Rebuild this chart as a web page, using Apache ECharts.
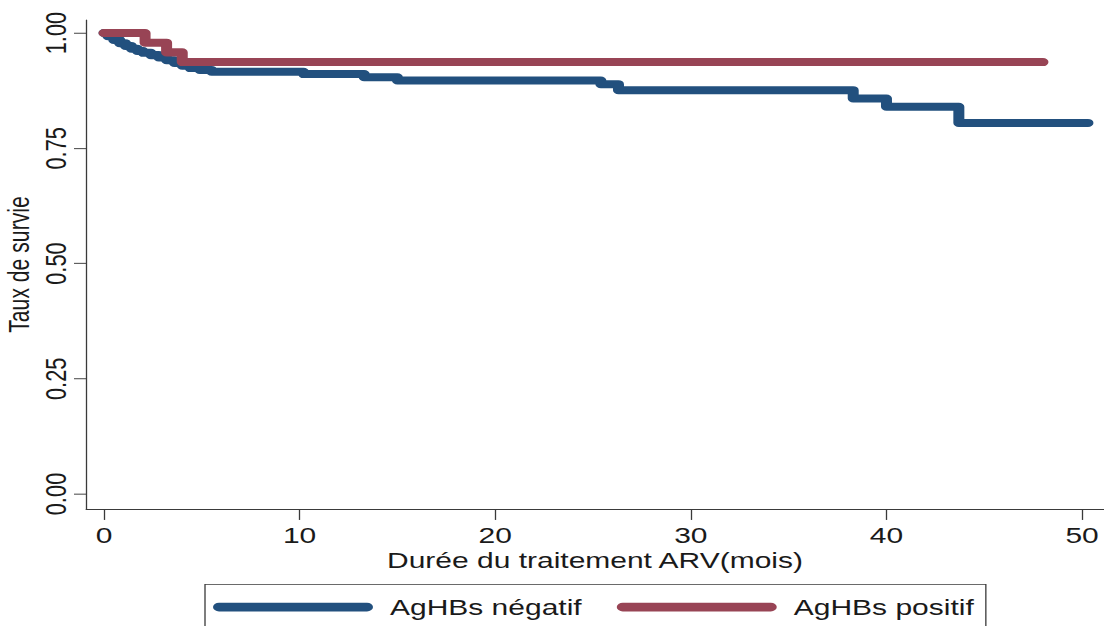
<!DOCTYPE html>
<html>
<head>
<meta charset="utf-8">
<script src="https://cdn.jsdelivr.net/npm/echarts@6/dist/echarts.min.js"></script>
<style>
html,body{margin:0;padding:0;background:#fff;overflow:hidden;width:1104px;height:626px;}
#c{width:1104px;height:857px;transform:scaleY(0.73046);transform-origin:0 0;}
</style>
</head>
<body>
<div id="c"></div>
<script>
// Kaplan-Meier survival, AgHBs négatif
const negTimes = [0, 0.2, 0.5, 0.8, 1.1, 1.4, 1.7, 2.0, 2.4, 2.8, 3.2, 3.6, 4.0, 4.4, 4.9, 5.5, 10.2, 13.3, 15.0, 25.4, 26.3, 38.3, 40.0, 43.7, 50.3];
const negSurv  = [1.0, 0.993, 0.985, 0.978, 0.972, 0.966, 0.961, 0.957, 0.952, 0.947, 0.941, 0.935, 0.929, 0.924, 0.920, 0.916, 0.911, 0.904, 0.897, 0.889, 0.876, 0.858, 0.840, 0.805, 0.805];
// AgHBs positif
const posTimes = [0, 2.1, 3.2, 4.0, 48.0];
const posSurv  = [1.0, 0.979, 0.958, 0.937, 0.937];

const seriesNames = ['AgHBs négatif', 'AgHBs positif'];
const xTickValues = [0, 10, 20, 30, 40, 50];
const yTickValues = [0, 0.25, 0.5, 0.75, 1];
const yTickLabels = ['0.00', '0.25', '0.50', '0.75', '1.00'];
const xTitle = 'Durée du traitement ARV(mois)';
const yTitle = 'Taux de survie';

const FONT = "'Liberation Sans', Arial, Helvetica, sans-serif";
const AXIS = {color: '#3a3a3a', width: 1.3};

function pairs(ts, ss) { return ts.map((t, i) => [t, ss[i]]); }

const chart = echarts.init(document.getElementById('c'), null, {renderer: 'svg'});
chart.setOption({
  animation: false,
  backgroundColor: '#ffffff',
  color: ['#22507e', '#984455'],
  grid: {left: 86, right: 0, top: 27.4, bottom: 160.2, containLabel: false, outerBoundsMode: 'none'},
  xAxis: {
    type: 'value', min: -0.92, max: 51.12,
    axisLine: {show: true, onZero: false, lineStyle: AXIS},
    axisTick: {show: true, length: 15, customValues: xTickValues, lineStyle: AXIS},
    axisLabel: {customValues: xTickValues, margin: 21, fontSize: 30, color: '#1a1a1a', fontFamily: FONT},
    splitLine: {show: false},
    name: xTitle, nameLocation: 'middle', nameGap: 49,
    nameTextStyle: {fontSize: 30, color: '#1a1a1a', fontFamily: FONT}
  },
  yAxis: {
    type: 'value', min: -0.0325, max: 1.0282,
    axisLine: {show: true, onZero: false, lineStyle: AXIS},
    axisTick: {show: true, length: 12, customValues: yTickValues, lineStyle: AXIS},
    axisLabel: {
      customValues: yTickValues, rotate: 90, margin: 15, fontSize: 30, color: '#1a1a1a', fontFamily: FONT,
      formatter: function (v) {
        const i = yTickValues.findIndex(x => Math.abs(x - v) < 1e-9);
        return i >= 0 ? yTickLabels[i] : v.toFixed(2);
      }
    },
    splitLine: {show: false},
    name: yTitle, nameLocation: 'middle', nameGap: 40, nameRotate: 90,
    nameTextStyle: {fontSize: 29, color: '#1a1a1a', fontFamily: FONT}
  },
  legend: {
    left: 205, top: 800, orient: 'horizontal',
    itemWidth: 160, itemHeight: 12, itemGap: 35,
    padding: [16, 12, 20, 8],
    borderColor: '#3a3a3a', borderWidth: 1.3,
    icon: 'path://M6,0H154A6,6,0,0,1,154,12H6A6,6,0,0,1,6,0Z',
    textStyle: {fontSize: 30, color: '#1a1a1a', fontFamily: FONT, padding: [0, 0, 0, 12]},
    data: seriesNames
  },
  series: [
    {
      name: seriesNames[0], type: 'line', step: 'end', showSymbol: false, symbol: 'none',
      lineStyle: {width: 11, cap: 'round', join: 'round'},
      data: pairs(negTimes, negSurv)
    },
    {
      name: seriesNames[1], type: 'line', step: 'end', showSymbol: false, symbol: 'none',
      lineStyle: {width: 11, cap: 'round', join: 'round'},
      data: pairs(posTimes, posSurv)
    }
  ]
});
</script>
</body>
</html>
